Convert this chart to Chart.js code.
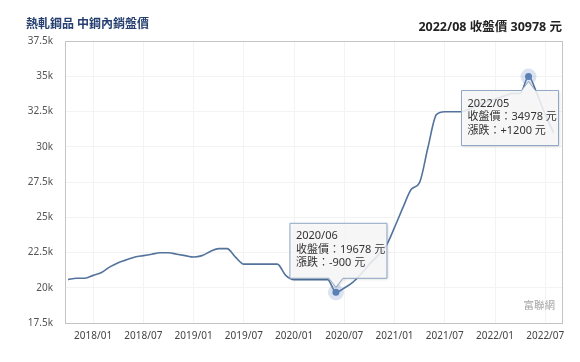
<!DOCTYPE html>
<html>
<head>
<meta charset="utf-8">
<script src="https://cdn.jsdelivr.net/npm/chart.js@4"></script>
<style>
  body { margin: 0; background: #fff; }
  #wrap { position: relative; width: 580px; height: 362px; }
  .txt { position: absolute; white-space: nowrap; font-family: "Noto Sans", "Noto Sans CJK TC", sans-serif; }
  #title { left: 26px; top: 15px; font-size: 12px; font-weight: bold; color: #253f70; line-height: 18px; }
  #close { right: 18px; top: 18px; font-size: 12.5px; font-weight: bold; color: #222; line-height: 18px; }
  #mark { right: 25px; top: 297px; font-size: 10.5px; color: #a5a5a5; line-height: 16px; }
</style>
</head>
<body>
<div id="wrap">
  <canvas id="priceChart"></canvas>
  <div class="txt" id="title">熱軋鋼品 中鋼內銷盤價</div>
  <div class="txt" id="close">2022/08 收盤價 30978 元</div>
  <div class="txt" id="mark">富聯網</div>
</div>
<script>
// monthly close price, 2017/10 .. 2022/08
const months = [
  "2017/10", "2017/11", "2017/12",
  "2018/01", "2018/02", "2018/03", "2018/04", "2018/05", "2018/06",
  "2018/07", "2018/08", "2018/09", "2018/10", "2018/11", "2018/12",
  "2019/01", "2019/02", "2019/03", "2019/04", "2019/05", "2019/06",
  "2019/07", "2019/08", "2019/09", "2019/10", "2019/11", "2019/12",
  "2020/01", "2020/02", "2020/03", "2020/04", "2020/05", "2020/06",
  "2020/07", "2020/08", "2020/09", "2020/10", "2020/11", "2020/12",
  "2021/01", "2021/02", "2021/03", "2021/04", "2021/05", "2021/06",
  "2021/07", "2021/08", "2021/09", "2021/10", "2021/11", "2021/12",
  "2022/01", "2022/02", "2022/03", "2022/04", "2022/05", "2022/06",
  "2022/07", "2022/08"
];
const prices = [
  20578, 20678, 20678,
  20878, 21078, 21478, 21778, 21978, 22178,
  22278, 22378, 22478, 22478, 22378, 22278,
  22178, 22278, 22578, 22778, 22778, 22178,
  21678, 21678, 21678, 21678, 21678, 20878,
  20578, 20578, 20578, 20578, 20578, 19678,
  19978, 20378, 20978, 21678, 22278, 22978,
  24278, 25678, 26978, 27478, 29978, 32278,
  32478, 32478, 32478, 32678, 32978, 33178,
  33378, 33578, 33778, 33778, 34978, 33778,
  32278, 30978
];
const tickMonths = ["2018/01", "2018/07", "2019/01", "2019/07", "2020/01", "2020/07", "2021/01", "2021/07", "2022/01", "2022/07"];
const yTicks = [17500, 20000, 22500, 25000, 27500, 30000, 32500, 35000, 37500];

// the two highlighted months shown with callouts
const marked = ["2020/06", "2022/05"];

const LINE = "#53739c";
const FONT = '"Noto Sans", "Noto Sans CJK TC", sans-serif';

function calloutLines(i) {
  const diff = prices[i] - prices[i - 1];
  return [
    months[i],
    "收盤價：" + prices[i] + " 元",
    "漲跌：" + (diff > 0 ? "+" : "") + diff + " 元"
  ];
}

// frame around plot area
const framePlugin = {
  id: "frame",
  beforeDatasetsDraw(chart) {
    const a = chart.chartArea, ctx = chart.ctx;
    ctx.save();
    ctx.strokeStyle = "#c4c4c4";
    ctx.lineWidth = 1;
    ctx.strokeRect(Math.round(a.left) + 0.5, Math.round(a.top) + 0.5,
      Math.round(a.right - a.left), Math.round(a.bottom - a.top));
    ctx.restore();
  }
};

// highlighted points + callout boxes
const calloutPlugin = {
  id: "callouts",
  afterDatasetsDraw(chart) {
    const ctx = chart.ctx;
    const xs = chart.scales.x, ys = chart.scales.y;
    marked.forEach(m => {
      const i = months.indexOf(m);
      const px = xs.getPixelForValue(i), py = ys.getPixelForValue(prices[i]);
      // halo + point
      ctx.save();
      ctx.fillStyle = "rgba(110,145,195,0.25)";
      ctx.beginPath(); ctx.arc(px, py, 8, 0, Math.PI * 2); ctx.fill();
      ctx.fillStyle = "#5b80b5";
      ctx.beginPath(); ctx.arc(px, py, 3.5, 0, Math.PI * 2); ctx.fill();
      ctx.restore();

      const below = py < chart.chartArea.top + 80;
      const w = 97, h = 55;
      let bx, by, tipY, edgeY;
      if (below) {
        bx = px - 67; by = py + 14; tipY = py + 5; edgeY = by;
      } else {
        bx = px - 46; by = py - 14 - h; tipY = py - 5; edgeY = by + h;
      }
      ctx.save();
      ctx.shadowColor = "rgba(0,0,0,0.18)";
      ctx.shadowBlur = 3;
      ctx.shadowOffsetX = 1;
      ctx.shadowOffsetY = 1;
      ctx.beginPath();
      if (below) {
        ctx.moveTo(bx, by);
        ctx.lineTo(px - 7, by); ctx.lineTo(px, tipY); ctx.lineTo(px + 7, by);
        ctx.lineTo(bx + w, by); ctx.lineTo(bx + w, by + h); ctx.lineTo(bx, by + h);
      } else {
        ctx.moveTo(bx, by); ctx.lineTo(bx + w, by); ctx.lineTo(bx + w, edgeY);
        ctx.lineTo(px + 7, edgeY); ctx.lineTo(px, tipY); ctx.lineTo(px - 7, edgeY);
        ctx.lineTo(bx, edgeY);
      }
      ctx.closePath();
      ctx.fillStyle = "rgba(250,250,250,0.86)";
      ctx.fill();
      ctx.shadowColor = "transparent";
      ctx.strokeStyle = "#8ea5c4";
      ctx.lineWidth = 1;
      ctx.stroke();
      ctx.fillStyle = "#333";
      ctx.font = "11px " + FONT;
      ctx.textBaseline = "middle";
      calloutLines(i).forEach((t, k) => ctx.fillText(t, bx + 6, by + 13 + k * 13.5));
      ctx.restore();
    });
  }
};

new Chart(document.getElementById("priceChart"), {
  type: "line",
  data: {
    datasets: [{
      data: prices.map((p, i) => ({ x: i, y: p })),
      borderColor: LINE,
      borderWidth: 1.6,
      pointRadius: 0,
      cubicInterpolationMode: "monotone",
      fill: false
    }]
  },
  options: {
    responsive: true,
    maintainAspectRatio: false,
    animation: false,
    layout: { padding: { left: 0, top: 41, right: 18, bottom: 0 } },
    plugins: { legend: { display: false }, tooltip: { enabled: false } },
    scales: {
      x: {
        type: "linear",
        min: -0.36,
        max: 59,
        afterBuildTicks: s => { s.ticks = tickMonths.map(t => ({ value: months.indexOf(t) })); },
        afterFit: s => { s.height = 39; },
        grid: { color: "#f3f3f3", drawTicks: false },
        border: { display: false },
        ticks: {
          autoSkip: false, maxRotation: 0, padding: 7,
          color: "#444", font: { family: FONT, size: 10 },
          callback: v => months[v]
        }
      },
      y: {
        min: 17500,
        max: 37500,
        afterBuildTicks: s => { s.ticks = yTicks.map(v => ({ value: v })); },
        afterFit: s => { s.width = 65; },
        grid: { color: "#f3f3f3", drawTicks: false },
        border: { display: false },
        ticks: {
          padding: 12,
          color: "#555", font: { family: FONT, size: 10 },
          callback: v => (v / 1000) + "k"
        }
      }
    }
  },
  plugins: [framePlugin, calloutPlugin]
});
</script>
</body>
</html>
